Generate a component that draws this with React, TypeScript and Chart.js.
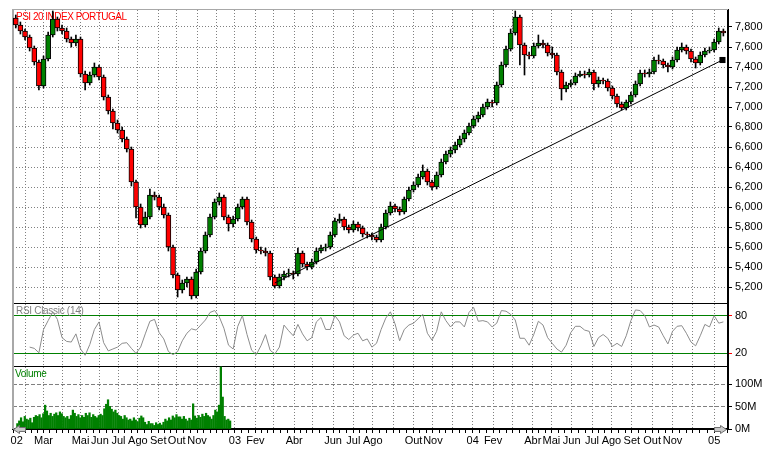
import React, { useEffect, useRef } from 'react';
import { Chart, registerables } from 'chart.js';

Chart.register(...registerables);

// ---------- text ----------
const TITLE = 'PSI 20 INDEX PORTUGAL';
const RSI_TITLE = 'RSI Classic (14)';
const VOL_TITLE = 'Volume';

// ---------- x axis: trading-day index (0 = first session of Jan 2002) ----------
const monthBars = [21, 19, 21, 19, 21, 20, 21, 22, 20, 22, 21, 20, 22, 20, 22, 20, 22, 22, 21, 22, 22, 21, 21, 22, 22, 21, 22, 20, 22, 22, 21, 22, 22, 22, 22, 23];
const monthLabels = ['02', '', 'Mar', '', 'Mai', 'Jun', 'Jul', 'Ago', 'Set', 'Out', 'Nov', '', '03', 'Fev', '', 'Abr', '', 'Jun', 'Jul', 'Ago', '', 'Out', 'Nov', '', '04', 'Fev', '', 'Abr', 'Mai', 'Jun', 'Jul', 'Ago', 'Set', 'Out', 'Nov', '', '05'];
const YEAR_LABEL_POS = 11;
const X_MIN = 7;
const X_MAX = 780;

// ---------- weekly candles (one every 5 sessions) ----------
const CANDLE_START = 10;
const CANDLE_STEP = 5;
const opens = [7890, 7820, 7760, 7700, 7590, 7450, 7210, 7480, 7720, 7880,
  7790, 7760, 7680, 7640, 7680, 7330, 7240, 7320, 7400, 7300,
  7100, 6960, 6840, 6770, 6680, 6580, 6250, 6000, 5820, 5900,
  6120, 6100, 6000, 5920, 5600, 5320, 5170, 5240, 5280, 5110,
  5350, 5560, 5720, 5900, 6050, 6100, 5900, 5830, 5880, 6000,
  6080, 5850, 5680, 5570, 5560, 5540, 5300, 5210, 5300, 5330,
  5340, 5330, 5540, 5430, 5400, 5450, 5560, 5590, 5600, 5720,
  5860, 5880, 5800, 5770, 5830, 5790, 5730, 5720, 5700, 5670,
  5800, 5940, 6010, 5980, 5950, 6080, 6170, 6220, 6300, 6360,
  6250, 6200, 6320, 6450, 6530, 6570, 6620, 6680, 6740, 6810,
  6880, 6920, 7000, 7050, 7040, 7220, 7420, 7580, 7740, 7900,
  7620, 7520, 7510, 7610, 7640, 7620, 7540, 7520, 7350, 7180,
  7220, 7240, 7310, 7330, 7320, 7350, 7230, 7270, 7260, 7190,
  7110, 7030, 6990, 7050, 7120, 7230, 7340, 7330, 7350, 7470,
  7460, 7420, 7400, 7470, 7570, 7600, 7560, 7480, 7440, 7520,
  7560, 7570, 7650, 7760];
const closes = [7820, 7760, 7700, 7590, 7450, 7210, 7480, 7720, 7880, 7790,
  7760, 7680, 7640, 7680, 7330, 7240, 7320, 7400, 7300, 7100,
  6960, 6840, 6770, 6680, 6580, 6250, 6000, 5820, 5900, 6120,
  6100, 6000, 5920, 5600, 5320, 5170, 5240, 5280, 5110, 5350,
  5560, 5720, 5900, 6050, 6100, 5900, 5830, 5880, 6000, 6080,
  5850, 5680, 5570, 5560, 5540, 5300, 5210, 5300, 5330, 5340,
  5330, 5540, 5430, 5400, 5450, 5560, 5590, 5600, 5720, 5860,
  5880, 5800, 5770, 5830, 5790, 5730, 5720, 5700, 5670, 5800,
  5940, 6010, 5980, 5950, 6080, 6170, 6220, 6300, 6360, 6250,
  6200, 6320, 6450, 6530, 6570, 6620, 6680, 6740, 6810, 6880,
  6920, 7000, 7050, 7040, 7220, 7420, 7580, 7740, 7900, 7620,
  7520, 7510, 7610, 7640, 7620, 7540, 7520, 7350, 7180, 7220,
  7240, 7310, 7330, 7320, 7350, 7230, 7270, 7260, 7190, 7110,
  7030, 6990, 7050, 7120, 7230, 7340, 7330, 7350, 7470, 7460,
  7420, 7400, 7470, 7570, 7600, 7560, 7480, 7440, 7520, 7560,
  7570, 7650, 7760, 7740];
const highs = [7920, 7850, 7780, 7720, 7610, 7470, 7510, 7750, 7960, 7900,
  7820, 7790, 7700, 7720, 7700, 7360, 7350, 7440, 7420, 7320,
  7120, 6980, 6870, 6800, 6700, 6600, 6270, 6030, 5950, 6180,
  6150, 6120, 6030, 5940, 5620, 5340, 5270, 5300, 5300, 5380,
  5590, 5750, 5930, 6080, 6140, 6120, 5920, 5910, 6030, 6100,
  6100, 5870, 5700, 5600, 5590, 5560, 5320, 5330, 5360, 5380,
  5360, 5590, 5560, 5450, 5480, 5590, 5620, 5630, 5750, 5890,
  5930, 5900, 5820, 5860, 5850, 5810, 5750, 5740, 5720, 5830,
  5970, 6050, 6030, 6000, 6100, 6200, 6250, 6330, 6420, 6380,
  6270, 6350, 6480, 6560, 6600, 6650, 6710, 6770, 6840, 6910,
  6950, 7030, 7080, 7070, 7250, 7450, 7610, 7780, 7960, 7920,
  7640, 7550, 7640, 7720, 7670, 7640, 7600, 7540, 7370, 7250,
  7270, 7340, 7360, 7360, 7380, 7370, 7300, 7290, 7280, 7210,
  7130, 7050, 7070, 7150, 7260, 7370, 7370, 7380, 7500, 7520,
  7480, 7440, 7500, 7600, 7640, 7620, 7580, 7500, 7550, 7590,
  7600, 7680, 7790, 7780];
const lows = [7790, 7730, 7670, 7560, 7420, 7170, 7190, 7460, 7700, 7760,
  7730, 7650, 7600, 7610, 7300, 7170, 7220, 7300, 7270, 7070,
  6930, 6780, 6740, 6650, 6550, 6210, 5890, 5790, 5800, 5880,
  6070, 5970, 5890, 5560, 5290, 5100, 5140, 5200, 5080, 5090,
  5330, 5540, 5700, 5880, 6020, 5870, 5760, 5800, 5860, 5980,
  5820, 5650, 5540, 5530, 5510, 5270, 5190, 5190, 5270, 5300,
  5280, 5310, 5400, 5370, 5380, 5430, 5540, 5560, 5580, 5700,
  5840, 5770, 5740, 5750, 5760, 5700, 5690, 5670, 5650, 5650,
  5780, 5920, 5950, 5920, 5930, 6060, 6150, 6200, 6280, 6220,
  6170, 6180, 6300, 6430, 6500, 6540, 6600, 6650, 6720, 6790,
  6850, 6900, 6980, 7000, 7020, 7200, 7400, 7560, 7720, 7420,
  7320, 7480, 7490, 7590, 7590, 7510, 7490, 7320, 7070, 7150,
  7200, 7220, 7300, 7290, 7300, 7170, 7200, 7230, 7160, 7080,
  7000, 6970, 6970, 7030, 7100, 7210, 7300, 7300, 7330, 7430,
  7390, 7350, 7380, 7450, 7550, 7530, 7450, 7390, 7420, 7500,
  7540, 7550, 7630, 7710];

// ---------- RSI (14), same sampling as the candles ----------
const rsi = [null, null, null, 30, 28, 21, 58, 72, 86, 74,
  45, 39, 38, 51, 27, 17, 34, 58, 70, 37,
  24, 27, 30, 36, 37, 28, 20, 30, 51, 71,
  74, 53, 43, 23, 18, 23, 40, 52, 59, 57,
  65, 73, 85, 88, 78, 60, 33, 27, 63, 80,
  50, 25, 18, 32, 50, 25, 19, 30, 65, 56,
  48, 66, 51, 40, 45, 70, 77, 58, 58, 80,
  70, 48, 42, 49, 52, 40, 43, 30, 36, 58,
  76, 86, 67, 40, 58, 65, 68, 75, 82, 52,
  41, 55, 86, 72, 62, 70, 70, 62, 85, 93,
  71, 72, 70, 62, 68, 88, 87, 82, 73, 44,
  44, 33, 50, 71, 65, 45, 36, 27, 22, 33,
  53, 63, 63, 57, 55, 31, 45, 50, 44, 31,
  36, 31, 48, 72, 89, 88, 80, 62, 65, 62,
  48, 35, 55, 63, 64, 52, 38, 32, 48, 66,
  62, 80, 68, 70];

// ---------- volume (millions), one value every 2 sessions, 2002 only ----------
const VOL_START = 10;
const VOL_STEP = 2;
const volumeM = [12, 18, 25, 16, 28, 22, 20, 24, 14, 26,
  30, 28, 32, 25, 34, 53, 40, 30, 35, 28,
  33, 36, 30, 38, 34, 28, 25, 28, 22, 30,
  42, 35, 28, 32, 25, 30, 26, 35, 30, 36,
  26, 32, 28, 25, 30, 33, 30, 45, 55, 65,
  50, 44, 38, 42, 35, 30, 28, 22, 30, 25,
  20, 22, 18, 25, 20, 16, 24, 29, 25, 15,
  10, 17, 12, 12, 8, 14, 10, 13, 9, 15,
  22, 18, 25, 20, 29, 25, 32, 27, 27, 22,
  28, 22, 18, 24, 20, 56, 29, 24, 30, 26,
  33, 28, 35, 30, 27, 22, 30, 42, 38, 53,
  138, 71, 28, 20, 22, 18];

// ---------- trend line ----------
const trendX = [290, 774];
const trendY = [5240, 7470];

// ---------- axis ticks ----------
const priceTicks = [5200, 5400, 5600, 5800, 6000, 6200, 6400, 6600, 6800, 7000, 7200, 7400, 7600, 7800];
const rsiTicks = [0, 20, 80, 100];
const rsiLabelled = [20, 80];
const volTicks = [0, 50, 100];

// ---------- derived structures ----------
const monthStarts: number[] = [];
{
  let acc = 0;
  for (const n of monthBars) { monthStarts.push(acc); acc += n; }
  monthStarts.push(acc);
}
const xTickValues: number[] = [];
const xLabelMap = new Map<number, string>();
const xGridSet = new Set<number>();
xTickValues.push(YEAR_LABEL_POS);
xLabelMap.set(YEAR_LABEL_POS, monthLabels[0]);
monthStarts.forEach((start, m) => {
  const n = monthBars[m] ?? 22;
  const cands = [start, start + n / 3, start + (2 * n) / 3];
  cands.forEach((v, j) => {
    if (v < X_MIN || v > X_MAX) return;
    xTickValues.push(v);
    if (j === 0 && m > 0) {
      xGridSet.add(v);
      xLabelMap.set(v, monthLabels[m]);
    }
  });
});
xTickValues.sort((a, b) => a - b);

const candleX = closes.map((_, i) => CANDLE_START + i * CANDLE_STEP);
const wickData = candleX.map((x, i) => ({ x, y: [lows[i], highs[i]] }));
const bodyData = candleX.map((x, i) => ({ x, y: [opens[i], closes[i]] }));
const bodyColors = closes.map((c, i) => (c >= opens[i] ? '#008000' : '#ff0000'));
const rsiData = candleX
  .map((x, i) => ({ x, y: rsi[i] }))
  .filter((p) => p.y !== null);
const volData = volumeM.map((v, k) => ({ x: VOL_START + k * VOL_STEP, y: v }));
const trendData = trendX.map((x, i) => ({ x, y: trendY[i] }));

const FONT_FAMILY = "'Liberation Sans', Arial, Helvetica, sans-serif";
const tickFont = { family: FONT_FAMILY, size: 11 };
const CLEAR = 'rgba(0,0,0,0)';
const GRID_GRAY = '#808080';

const decorPlugin = {
  id: 'decor',
  beforeDatasetsDraw(chart: any) {
    const { ctx, chartArea: a, scales } = chart;
    ctx.save();
    ctx.fillStyle = '#a8a8a8';
    ctx.fillRect(a.left - 1, a.top - 1, 2, a.bottom - a.top + 1);
    ctx.fillRect(a.left - 1, a.top - 1, a.right - a.left + 1, 1);
    ctx.font = `10px ${FONT_FAMILY}`;
    ctx.textAlign = 'left';
    ctx.textBaseline = 'middle';
    try { ctx.letterSpacing = '-0.5px'; } catch (e) { /* ignore */ }
    ctx.fillStyle = '#ff0000';
    ctx.fillText(TITLE, a.left + 3, scales.yP.top + 7.5);
    try { ctx.letterSpacing = '-0.3px'; } catch (e) { /* ignore */ }
    ctx.fillStyle = '#808080';
    ctx.fillText(RSI_TITLE, a.left + 3, scales.yR.top + 8.5);
    ctx.fillStyle = '#008000';
    ctx.fillText(VOL_TITLE, a.left + 2, scales.yV.top + 8);
    ctx.restore();
  },
  afterDraw(chart: any) {
    const { ctx, chartArea: a } = chart;
    const y = a.bottom + 0.5;
    const arrow = (tipX: number, dir: number) => {
      ctx.beginPath();
      ctx.moveTo(tipX, y);
      ctx.lineTo(tipX + dir * 6, y - 4);
      ctx.lineTo(tipX + dir * 6, y - 2);
      ctx.lineTo(tipX + dir * 12, y - 2);
      ctx.lineTo(tipX + dir * 12, y + 2);
      ctx.lineTo(tipX + dir * 6, y + 2);
      ctx.lineTo(tipX + dir * 6, y + 4);
      ctx.closePath();
      ctx.fill();
      ctx.stroke();
    };
    ctx.save();
    ctx.fillStyle = '#c8c8c8';
    ctx.strokeStyle = '#707070';
    ctx.lineWidth = 1;
    arrow(a.left + 0.5, 1);
    arrow(a.right - 1.5, -1);
    ctx.restore();
  },
};

export default function App() {
  const canvasRef = useRef<HTMLCanvasElement | null>(null);

  useEffect(() => {
    const canvas = canvasRef.current;
    if (!canvas) return;
    const chart = new Chart(canvas, {
      type: 'bar',
      data: {
        datasets: [
          {
            type: 'line',
            label: 'Trend',
            data: trendData,
            xAxisID: 'x',
            yAxisID: 'yP',
            borderColor: '#000000',
            borderWidth: 1,
            pointRadius: [0, 4.3],
            pointStyle: 'rect',
            pointBackgroundColor: '#000000',
            pointBorderWidth: 0,
            order: 0,
            clip: false,
          },
          {
            type: 'line',
            label: 'RSI',
            data: rsiData,
            xAxisID: 'x',
            yAxisID: 'yR',
            borderColor: '#8c8c8c',
            borderWidth: 1,
            pointRadius: 0,
            tension: 0,
            order: 1,
          },
          {
            type: 'bar',
            label: 'Body',
            data: bodyData,
            xAxisID: 'xC',
            yAxisID: 'yP',
            stack: 'candle',
            backgroundColor: bodyColors,
            borderColor: '#000000',
            borderWidth: 1,
            borderSkipped: false,
            barThickness: 5,
            order: 2,
          },
          {
            type: 'bar',
            label: 'Wick',
            data: wickData,
            xAxisID: 'xC',
            yAxisID: 'yP',
            stack: 'candle',
            backgroundColor: '#000000',
            borderWidth: 0,
            barThickness: 1,
            order: 3,
          },
          {
            type: 'bar',
            label: 'Volume',
            data: volData,
            xAxisID: 'xV',
            yAxisID: 'yV',
            backgroundColor: '#008000',
            borderWidth: 0,
            barThickness: 1.6,
            order: 4,
          },
        ] as any,
      },
      options: {
        responsive: false,
        animation: false,
        devicePixelRatio: 1,
        events: [],
        layout: { padding: { left: 13, top: 10, right: 0, bottom: 0 } },
        plugins: {
          legend: { display: false },
          tooltip: { enabled: false },
          title: { display: false },
        },
        scales: {
          x: {
            type: 'linear',
            position: 'bottom',
            min: X_MIN,
            max: X_MAX,
            offset: false,
            beginAtZero: false,
            afterBuildTicks: (s: any) => { s.ticks = xTickValues.map((v) => ({ value: v })); },
            afterFit: (s: any) => { s.height = 26; },
            ticks: {
              autoSkip: false,
              maxRotation: 0,
              minRotation: 0,
              padding: 1,
              font: tickFont,
              color: '#000000',
              callback: (v: any) => xLabelMap.get(Number(v)) ?? '',
            },
            grid: {
              offset: false,
              lineWidth: 1,
              color: (c: any) => (c.tick && xGridSet.has(c.tick.value) ? GRID_GRAY : CLEAR),
              tickColor: (c: any) => (c.tick && c.tick.value === YEAR_LABEL_POS ? CLEAR : '#000000'),
              tickLength: 4,
            },
            border: { color: '#000000', width: 2, dash: [1, 2] },
          },
          xC: { type: 'linear', display: false, min: X_MIN, max: X_MAX, offset: false, grid: { offset: false } },
          xV: { type: 'linear', display: false, min: X_MIN, max: X_MAX, offset: false, grid: { offset: false } },
          yP: {
            type: 'linear',
            position: 'right',
            stack: 'panels',
            stackWeight: 293,
            stacked: false,
            min: 5040,
            max: 7970,
            beginAtZero: false,
            afterBuildTicks: (s: any) => { s.ticks = priceTicks.map((v) => ({ value: v })); },
            afterFit: (s: any) => { s.width = 43; },
            ticks: {
              autoSkip: false,
              font: tickFont,
              color: '#000000',
              padding: 3,
              callback: (v: any) => Number(v).toLocaleString('en-US'),
            },
            grid: { color: GRID_GRAY, lineWidth: 1, tickColor: '#000000', tickLength: 4 },
            border: { color: '#000000', width: 2, dash: [1, 2] },
          },
          yR: {
            type: 'linear',
            position: 'right',
            stack: 'panels',
            stackWeight: 63,
            min: 0,
            max: 100,
            beginAtZero: false,
            afterBuildTicks: (s: any) => { s.ticks = rsiTicks.map((v) => ({ value: v })); },
            afterFit: (s: any) => { s.width = 43; },
            ticks: {
              autoSkip: false,
              font: tickFont,
              color: '#000000',
              padding: 3,
              callback: (v: any) => (rsiLabelled.includes(Number(v)) ? String(v) : ''),
            },
            grid: {
              lineWidth: 1,
              color: (c: any) => (c.tick && rsiLabelled.includes(c.tick.value) ? '#008000' : '#000000'),
              tickColor: (c: any) => (c.tick && rsiLabelled.includes(c.tick.value) ? '#ff0000' : CLEAR),
              tickLength: 4,
            },
            border: { color: '#000000', width: 2 },
          },
          yV: {
            type: 'linear',
            position: 'right',
            stack: 'panels',
            stackWeight: 63,
            min: 0,
            max: 140,
            beginAtZero: false,
            afterBuildTicks: (s: any) => { s.ticks = volTicks.map((v) => ({ value: v })); },
            afterFit: (s: any) => { s.width = 43; },
            ticks: {
              autoSkip: false,
              font: tickFont,
              color: '#000000',
              padding: 3,
              callback: (v: any) => `${v}M`,
            },
            grid: {
              lineWidth: 1,
              color: (c: any) => (c.tick && c.tick.value === 0 ? CLEAR : GRID_GRAY),
              tickColor: '#000000',
              tickLength: 4,
            },
            border: { color: '#000000', width: 2, dash: [4, 2] },
          },
        } as any,
      },
      plugins: [decorPlugin],
    } as any);
    return () => chart.destroy();
  }, []);

  return (
    <div style={{ position: 'absolute', left: 0, top: 0, width: 771, height: 455, background: '#ffffff' }}>
      <canvas ref={canvasRef} width={771} height={455} style={{ display: 'block', width: 771, height: 455 }} />
    </div>
  );
}
